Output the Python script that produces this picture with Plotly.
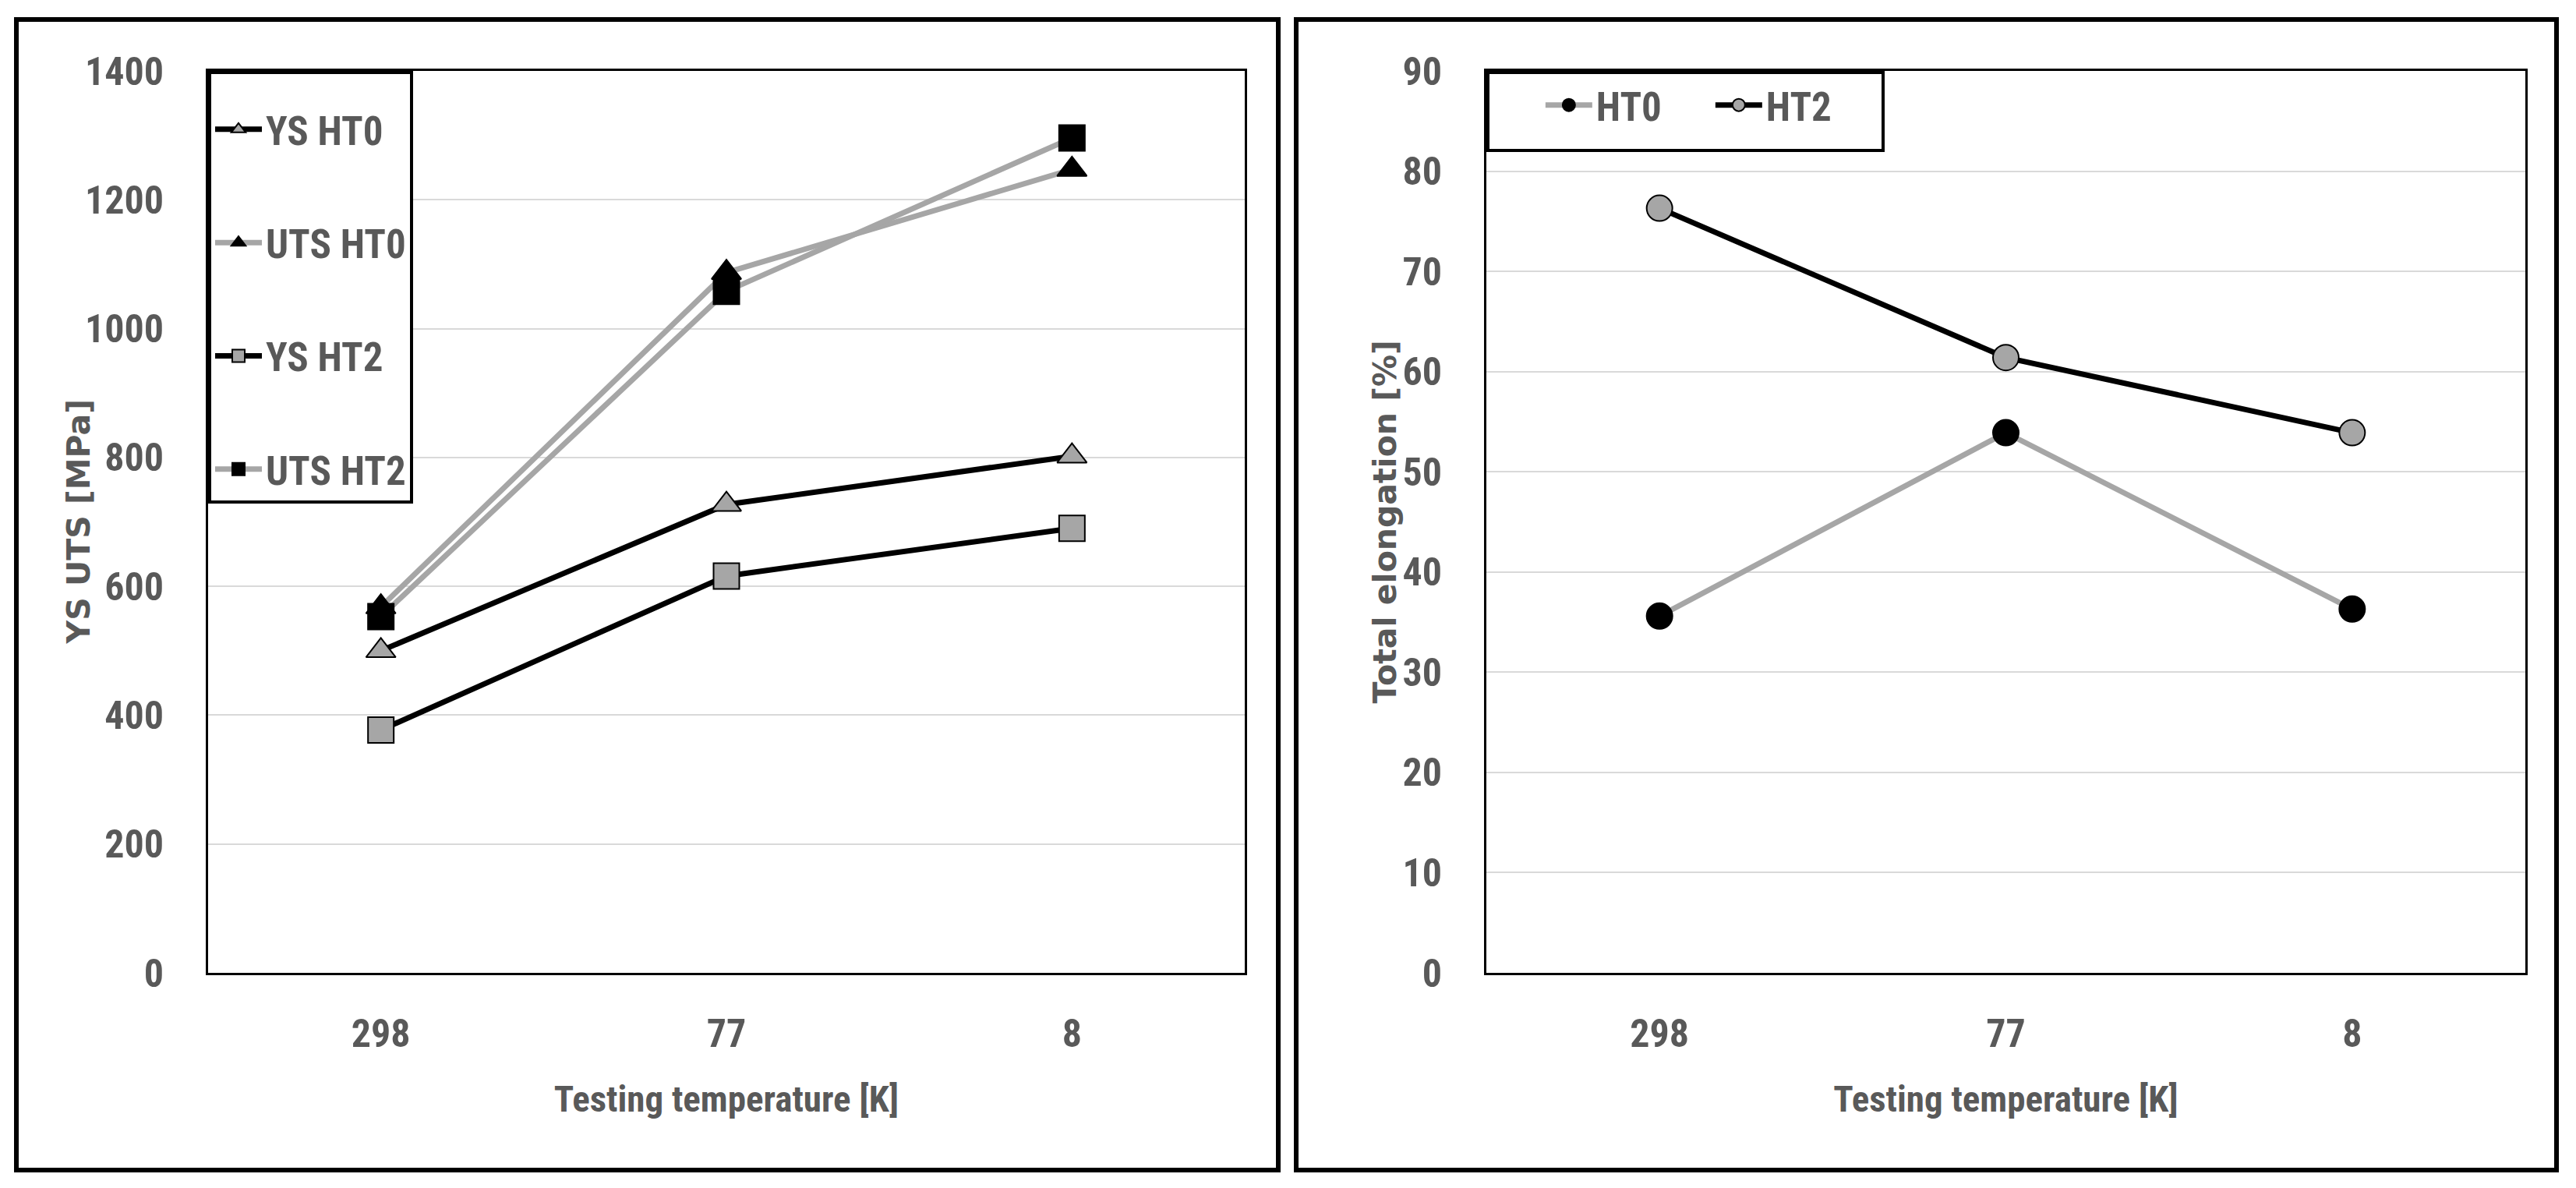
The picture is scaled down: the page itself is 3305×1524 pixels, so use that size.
import plotly.graph_objects as go

# ---------------- data ----------------
temps = ["298", "77", "8"]
ys_ht0 = [500, 727, 802]
uts_ht0 = [568, 1087, 1247]
ys_ht2 = [377, 616, 690]
uts_ht2 = [553, 1058, 1296]
el_ht0 = [35.6, 53.9, 36.3]
el_ht2 = [76.3, 61.4, 53.9]

W, H = 3305, 1524
BLACK = "#000000"
GRAYLINE = "#A6A6A6"
GRAYFILL = "#A6A6A6"
TXT = "#595959"
NARROW = "Liberation Sans Narrow, Roboto Condensed, Arial Narrow, sans-serif"
WIDE = "DejaVu Sans, Verdana, sans-serif"

fig = go.Figure()

def add(x, y, name, color, symbol, fill, xa, ya, legend, group):
    fig.add_trace(go.Scatter(
        x=x, y=y, name=name, mode="lines+markers",
        line=dict(color=color, width=7),
        marker=dict(symbol=symbol, size=33, color=fill,
                    line=dict(color=BLACK, width=2)),
        xaxis=xa, yaxis=ya, legend=legend, legendgroup=group,
    ))

add(temps, ys_ht0, "YS HT0", BLACK, "triangle-up", GRAYFILL, "x", "y", "legend", "a")
add(temps, uts_ht0, "UTS HT0", GRAYLINE, "triangle-up", BLACK, "x", "y", "legend", "b")
add(temps, ys_ht2, "YS HT2", BLACK, "square", GRAYFILL, "x", "y", "legend", "c")
add(temps, uts_ht2, "UTS HT2", GRAYLINE, "square", BLACK, "x", "y", "legend", "d")
add(temps, el_ht0, "HT0", GRAYLINE, "circle", BLACK, "x2", "y2", "legend2", "e")
add(temps, el_ht2, "HT2", BLACK, "circle", GRAYFILL, "x2", "y2", "legend2", "f")

tickfont = dict(family=NARROW, size=50, color=TXT, weight="bold")
xtitlefont = dict(family=NARROW, size=47, color=TXT, weight="bold")
ytitlefont = dict(family=WIDE, size=41, color=TXT, weight="bold")
legfont = dict(family=NARROW, size=51, color=TXT, weight="bold")

xcommon = dict(
    type="category", range=[-0.5, 2.5], showgrid=False, zeroline=False,
    showline=True, linecolor=BLACK, linewidth=3, mirror=True,
    ticks="", tickfont=tickfont, ticklabelstandoff=32, automargin=False,
    title=dict(text="Testing temperature [K]", font=xtitlefont, standoff=40),
)
ycommon = dict(
    showgrid=True, gridcolor="#D9D9D9", gridwidth=2, zeroline=False,
    showline=True, linecolor=BLACK, linewidth=3, mirror=True,
    ticks="", tickfont=tickfont, ticklabelstandoff=44, automargin=False,
)

lx0, lx1 = 267 / W, 1597 / W
rx0, rx1 = 1907 / W, 3240 / W
yb, yt = 1 - 1248 / H, 1 - 91 / H

fig.update_layout(
    width=W, height=H,
    margin=dict(l=0, r=0, t=0, b=0, autoexpand=False),
    paper_bgcolor="white", plot_bgcolor="white",
    xaxis=dict(domain=[lx0, lx1], anchor="y", **xcommon),
    yaxis=dict(domain=[yb, yt], anchor="x", range=[0, 1400], dtick=200, **ycommon),
    xaxis2=dict(domain=[rx0, rx1], anchor="y2", **xcommon),
    yaxis2=dict(domain=[yb, yt], anchor="x2", range=[0, 90], dtick=10, **ycommon),
    legend=dict(
        x=lx0, y=yt, xanchor="left", yanchor="top", orientation="v",
        bgcolor="white", bordercolor=BLACK, borderwidth=4,
        font=legfont,
        itemwidth=60, tracegroupgap=76, traceorder="grouped",
        title=dict(text="\u00a0", side="top", font=dict(size=24)),
    ),
    legend2=dict(
        x=rx0, y=yt, xanchor="left", yanchor="top", orientation="h",
        bgcolor="white", bordercolor=BLACK, borderwidth=4,
        font=legfont,
        itemwidth=60, entrywidth=143, entrywidthmode="pixels",
        title=dict(text="\u00a0\u00a0\u00a0\u00a0", side="left",
                   font=dict(size=66)),
    ),
    showlegend=True,
)

# y-axis titles, centred on the plot areas
ymid = (yb + yt) / 2
fig.add_annotation(text="YS UTS [MPa]", xref="paper", yref="paper",
                   x=100 / W, y=ymid, textangle=-90, showarrow=False,
                   font=ytitlefont, xanchor="center", yanchor="middle")
fig.add_annotation(text="Total elongation [%]", xref="paper", yref="paper",
                   x=1776 / W, y=ymid, textangle=-90, showarrow=False,
                   font=ytitlefont, xanchor="center", yanchor="middle")

# outer panel frames
for x0, x1 in [(21, 1640), (1663, 3280)]:
    fig.add_shape(type="rect", xref="paper", yref="paper",
                  x0=x0 / W, x1=x1 / W, y0=1 - 1501 / H, y1=1 - 25 / H,
                  line=dict(color=BLACK, width=6), fillcolor="rgba(0,0,0,0)",
                  layer="above")

fig.write_html(
    "out.html",
    config={"displayModeBar": False},
    post_script="document.body.style.margin='0';document.body.style.overflow='hidden';",
)
